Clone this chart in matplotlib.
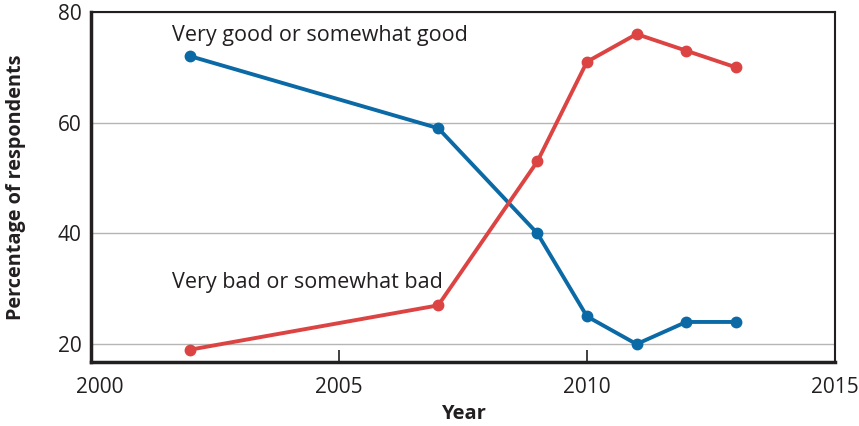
import matplotlib.pyplot as plt
import matplotlib.transforms as mtransforms

plt.rcParams['font.family'] = ['Open Sans', 'DejaVu Sans']

years = [2002, 2007, 2009, 2010, 2011, 2012, 2013]
good = [72, 59, 40, 25, 20, 24, 24]
bad = [19, 27, 53, 71, 76, 73, 70]

blue = "#0b6aa6"
red = "#dc4443"
dark = "#231f20"

fig = plt.figure(figsize=(8.59, 4.26), dpi=100)
ax = fig.add_axes([0.106, 0.150, 0.866, 0.822])

ax.plot(years, good, color=blue, lw=2.8, marker="o", ms=7.5, zorder=3)
ax.plot(years, bad, color=red, lw=2.8, marker="o", ms=7.5, zorder=3)

ax.text(2001.64, 75.8, "Very good or somewhat good", fontsize=15.5, color=dark, va="center")
ax.text(2001.64, 31.2, "Very bad or somewhat bad", fontsize=15.5, color=dark, va="center")

ax.set_xlim(2000, 2015)
ax.set_ylim(16.75, 80)
ax.set_xticks([2000, 2005, 2010, 2015])
ax.set_yticks([20, 40, 60, 80])
ax.grid(axis="y", color="#b5b5b5", lw=1)
ax.set_axisbelow(True)

for s in ["left", "bottom"]:
    ax.spines[s].set_linewidth(2.5)
    ax.spines[s].set_color(dark)
for s in ["top", "right"]:
    ax.spines[s].set_linewidth(1.5)
    ax.spines[s].set_color(dark)

ax.tick_params(axis="x", direction="in", length=9, width=1.2, color=dark,
               labelsize=15, labelcolor=dark, pad=11)
ax.tick_params(axis="y", length=0, labelsize=15, labelcolor=dark, pad=7)

# first year label sits a bit right of the spine in the original
first = ax.xaxis.get_major_ticks()[0].label1
first.set_transform(first.get_transform() + mtransforms.ScaledTranslation(0.09, 0, fig.dpi_scale_trans))

ax.set_xlabel("Year", fontsize=14.5, fontweight="bold", color=dark, labelpad=4)
ax.set_ylabel("Percentage of respondents", fontsize=14.3, fontweight="bold", color=dark, labelpad=10)
ax.yaxis.set_label_coords(-0.087, 0.5)

fig.savefig("out.png", dpi=100)
